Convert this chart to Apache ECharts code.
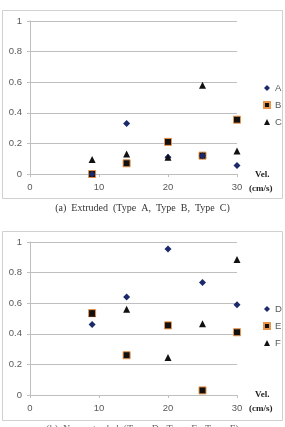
<!DOCTYPE html>
<html>
<head>
<meta charset="utf-8">
<style>
  html, body { margin: 0; padding: 0; background: #fff; }
  #chart { width: 285px; height: 427px; }
</style>
<script src="https://cdn.jsdelivr.net/npm/echarts@6/dist/echarts.min.js"></script>
</head>
<body>
<div id="chart"></div>
<script>
// velocities (cm/s)
const vel = [9, 14, 20, 25, 30];

// (a) extruded
const typeA = [0, 0.33, 0.11, 0.12, 0.055];
const typeB = [0, 0.07, 0.21, 0.12, 0.355];
const typeC = [0.095, 0.13, 0.11, 0.58, 0.15];

// (b) second panel
const typeD = [0.46, 0.64, 0.955, 0.735, 0.59];
const typeE = [0.535, 0.26, 0.455, 0.03, 0.41];
const typeF = [0.535, 0.56, 0.245, 0.465, 0.885];

const xTicks = [0, 10, 20, 30];
const yTicks = [0, 0.2, 0.4, 0.6, 0.8, 1];

const captionA = '(a)  Extruded  (Type  A,  Type  B,  Type  C)';
const captionB = '(b)  Non-extruded  (Type  D,  Type  E,  Type  F)';

const gridColor = '#bfbfbf';
const labelColor = '#595959';
const navy = '#1c2a6b';
const orange = '#e8944a';
const black = '#111';

function pts(ys) {
  return vel.map((v, i) => [v, ys[i]]);
}

function xAxis(gridIndex) {
  return {
    gridIndex, type: 'value', min: xTicks[0], max: xTicks[xTicks.length - 1], interval: 10,
    axisLine: { show: true, lineStyle: { color: gridColor } },
    axisTick: { show: true, length: 3, lineStyle: { color: gridColor } },
    splitLine: { show: false },
    axisLabel: { color: labelColor, fontSize: 9.5, fontFamily: 'Liberation Sans', margin: 8 }
  };
}

function yAxis(gridIndex) {
  return {
    gridIndex, type: 'value', min: yTicks[0], max: yTicks[yTicks.length - 1], interval: 0.2,
    axisLine: { show: true, lineStyle: { color: gridColor } },
    axisTick: { show: true, length: 3, lineStyle: { color: gridColor } },
    splitLine: { show: true, lineStyle: { color: gridColor } },
    axisLabel: { color: labelColor, fontSize: 9.5, fontFamily: 'Liberation Sans', margin: 8 }
  };
}

function scatter(name, idx, data, symbol, color, border) {
  return {
    name, type: 'scatter', xAxisIndex: idx, yAxisIndex: idx,
    data: pts(data), symbol,
    symbolSize: 7,
    itemStyle: { color, borderColor: border || color, borderWidth: border ? 1 : 0, opacity: 1 },
    z: symbol === 'rect' ? 2 : 3
  };
}

function legend(names, top) {
  return {
    data: names, orient: 'vertical', left: 258, top,
    itemWidth: 6, itemHeight: 6, itemGap: 7,
    textStyle: { color: labelColor, fontSize: 9.5, fontFamily: 'Liberation Sans' }
  };
}

function velLabel(y) {
  const style = { fill: '#222', font: 'bold 9px "Liberation Serif"' };
  return [
    { type: 'text', left: 255, top: y, style: Object.assign({ text: 'Vel.' }, style) },
    { type: 'text', left: 249, top: y + 14, style: Object.assign({ text: '(cm/s)' }, style) }
  ];
}

const chart = echarts.init(document.getElementById('chart'));
chart.setOption({
  animation: false,
  grid: [
    { left: 30, top: 21, width: 207, height: 153 },
    { left: 30, top: 242, width: 207, height: 153 }
  ],
  xAxis: [xAxis(0), xAxis(1)],
  yAxis: [yAxis(0), yAxis(1)],
  legend: [legend(['A', 'B', 'C'], 78), legend(['D', 'E', 'F'], 299)],
  series: [
    scatter('A', 0, typeA, 'diamond', navy),
    scatter('B', 0, typeB, 'rect', black, orange),
    scatter('C', 0, typeC, 'triangle', black),
    scatter('D', 1, typeD, 'diamond', navy),
    scatter('E', 1, typeE, 'rect', black, orange),
    scatter('F', 1, typeF, 'triangle', black)
  ],
  graphic: [
    { type: 'rect', shape: { x: 2.5, y: 10.5, width: 280, height: 188 }, style: { fill: 'none', stroke: '#d0d0d0', lineWidth: 1 }, z: -1 },
    { type: 'rect', shape: { x: 2.5, y: 231.5, width: 280, height: 189 }, style: { fill: 'none', stroke: '#d0d0d0', lineWidth: 1 }, z: -1 },
    { type: 'text', left: 'center', top: 203, style: { text: captionA, fill: '#333', font: '10px "Liberation Serif"' } },
    { type: 'text', left: 'center', top: 424, style: { text: captionB, fill: '#666', font: '10px "Liberation Serif"' } }
  ].concat(velLabel(170), velLabel(390))
});
</script>
</body>
</html>
